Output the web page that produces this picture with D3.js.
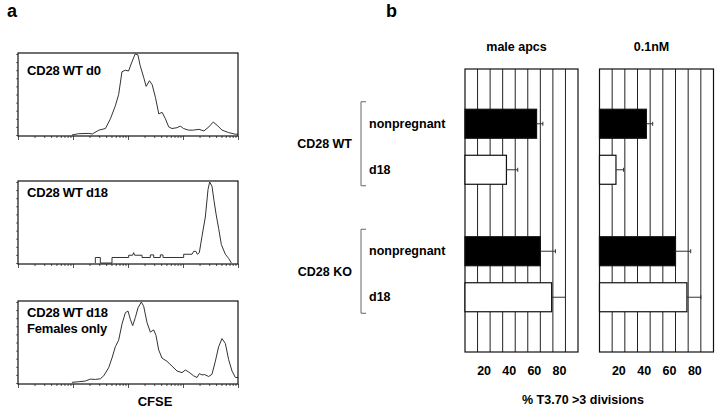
<!DOCTYPE html>
<html>
<head>
<meta charset="utf-8">
<script src="https://cdn.jsdelivr.net/npm/d3@7"></script>
<style>
  body { margin: 0; background: #fff; }
  svg { display: block; font-family: "Liberation Sans", Arial, sans-serif; font-weight: bold; }
</style>
</head>
<body>
<div class="container"></div>
<script>
// ---- panel a : CFSE histograms, x in log10 units (0..4 decades), y as % of peak
const histLabels = [["CD28 WT d0"], ["CD28 WT d18"], ["CD28 WT d18", "Females only"]]

const histD0 = [[0.98,0],[1.04,0.8],[1.10,1.6],[1.29,2],[1.35,1.2],[1.47,6],[1.59,8],[1.68,20],[1.77,36],
  [1.83,50],[1.89,78],[1.95,80],[2.01,79],[2.07,90],[2.13,100],[2.18,99],[2.22,86],[2.29,70],[2.33,60],
  [2.39,67],[2.44,62],[2.50,46],[2.56,26],[2.62,28],[2.68,20],[2.74,10],[2.80,8],[2.89,9],[2.95,11],
  [3.01,8],[3.10,6],[3.19,6],[3.29,7],[3.38,5],[3.47,10],[3.55,16],[3.62,12],[3.71,6],[3.83,3],[3.95,1],[4.0,1]]

const histD18 = [[1.406,0],[1.406,6.8],[1.497,6.8],[1.497,0],[1.709,0],[1.709,6.8],[2.012,6.8],[2.012,9.6],
  [2.085,9.6],[2.103,12.8],[2.121,9.6],[2.255,9.6],[2.255,6.8],[2.406,6.8],[2.406,10],[2.467,10],[2.467,6.8],
  [2.588,6.8],[2.588,10],[2.636,10],[2.636,6.8],[3.012,6.8],[3.012,10.8],[3.164,10.8],[3.194,14.4],[3.236,14.4],
  [3.261,10.8],[3.297,12.8],[3.345,32.8],[3.406,56.8],[3.455,90.8],[3.485,100],[3.527,94.8],[3.564,76.8],
  [3.60,60.8],[3.648,42.8],[3.697,22.8],[3.770,10.8],[3.830,5.6],[3.879,0]]

const histFemales = [[0.98,0.8],[1.103,1.6],[1.224,2.4],[1.315,4.8],[1.406,4.4],[1.497,5.2],[1.558,8.8],
  [1.648,18.8],[1.709,30.8],[1.770,44.8],[1.830,52.8],[1.891,72.8],[1.952,86.8],[2.0,88.8],[2.042,78.8],
  [2.085,70.8],[2.133,80.8],[2.182,92.8],[2.242,100],[2.285,94.8],[2.345,74.8],[2.406,62.8],[2.467,65.6],
  [2.509,58.8],[2.558,40.8],[2.618,30.8],[2.709,26.8],[2.80,20.8],[2.891,14.8],[2.982,12.8],[3.042,16],
  [3.103,13.6],[3.194,8.8],[3.255,6.8],[3.297,11.6],[3.345,10],[3.394,10.4],[3.467,8],[3.527,10.8],
  [3.588,26.8],[3.648,44.8],[3.709,54.8],[3.770,48.8],[3.830,28.8],[3.891,14.8],[3.952,6.8],[4.0,6.8]]

const histSeries = [histD0, histD18, histFemales]

// ---- panel b : % T3.70 > 3 divisions
const groups = ["CD28 WT", "CD28 KO"]
const conditions = ["nonpregnant", "d18"]
const barPanels = ["male apcs", "0.1nM"]
const maleApcsMean = [57, 33, 60, 69]
const maleApcsErr = [5, 9, 12, 11]
const nMMean = [37, 13, 60, 69]
const nMErr = [5, 6, 12, 11]
const barTicks = [20, 40, 60, 80]

const svg = d3.select(".container")
              .append("svg")
              .attr("width", 720)
              .attr("height", 411)

svg.append("text").text("a").attr("x", 7).attr("y", 17).style("font-size", "18px")
svg.append("text").text("b").attr("x", 386).attr("y", 17).style("font-size", "18px")

// ---------- histograms
const histTops = [53, 181, 301]
const histH = 83
const labelDy = [22, 16, 16]

const x = d3.scaleLog().domain([1, 1e4]).range([18, 238])

histSeries.forEach((series, i) => {
    const top = histTops[i]
    const y = d3.scaleLinear().domain([0, 100]).range([top + histH - 1, top + 1])
    const g = svg.append("g")

    g.append("g")
     .attr("transform", "translate(0," + (top + histH) + ")")
     .call(d3.axisBottom(x).ticks(10).tickSize(3).tickFormat(""))
     .call(a => a.select(".domain").remove())
     .call(a => a.selectAll(".tick line").attr("stroke", "#555")
        .attr("y2", d => Math.log10(d) % 1 === 0 ? 4 : 2))

    g.append("g")
     .attr("transform", "translate(18,0)")
     .call(d3.axisLeft(y).ticks(10).tickSize(2).tickFormat(""))
     .call(a => a.select(".domain").remove())
     .call(a => a.selectAll(".tick line").attr("stroke", "#777"))

    g.append("path")
     .datum(series)
     .attr("fill", "none")
     .attr("stroke", "#333")
     .attr("stroke-width", 1)
     .attr("d", d3.line().x(d => x(Math.pow(10, d[0]))).y(d => y(d[1])))

    g.append("rect")
     .attr("x", 18).attr("y", top)
     .attr("width", 220).attr("height", histH)
     .attr("fill", "none").attr("stroke", "#111").attr("stroke-width", 1.2)

    histLabels[i].forEach((t, j) => {
        g.append("text").text(t)
         .attr("x", 27).attr("y", top + labelDy[i] + j * 16)
         .style("font-size", "13px").style("letter-spacing", "-0.2px")
    })
})

svg.append("text").text("CFSE").attr("x", 155).attr("y", 406)
   .attr("text-anchor", "middle").style("font-size", "13px")

// ---------- bar panels
const boxTop = 69, boxBottom = 352
const y0 = d3.scaleBand().domain(groups).range([boxTop, boxBottom]).paddingInner(0).paddingOuter(0.11)
const y1 = d3.scaleBand().domain(conditions).range([0, y0.bandwidth()]).paddingInner(0.37).paddingOuter(0.57)

const rows = []
groups.forEach((gname, gi) => conditions.forEach((c, ci) => rows.push({group: gname, cond: c, k: gi * 2 + ci})))

const panelData = [
    {title: barPanels[0], mean: maleApcsMean, err: maleApcsErr, range: [465, 578]},
    {title: barPanels[1], mean: nMMean, err: nMErr, range: [599.5, 713.5]}
]

panelData.forEach(p => {
    const bx = d3.scaleLinear().domain([0, 90]).range(p.range)
    const g = svg.append("g")

    g.selectAll(".grid")
     .data(d3.range(10, 90, 10))
     .enter().append("line")
     .attr("x1", d => bx(d)).attr("x2", d => bx(d))
     .attr("y1", boxTop).attr("y2", boxBottom)
     .attr("stroke", "#222").attr("stroke-width", 1)

    g.append("rect")
     .attr("x", bx(0)).attr("y", boxTop)
     .attr("width", bx(90) - bx(0)).attr("height", boxBottom - boxTop)
     .attr("fill", "none").attr("stroke", "#111").attr("stroke-width", 1.2)

    const by = r => y0(r.group) + y1(r.cond)

    g.selectAll(".bar")
     .data(rows)
     .enter().append("rect")
     .attr("x", bx(0))
     .attr("y", r => by(r))
     .attr("width", r => bx(p.mean[r.k]) - bx(0))
     .attr("height", y1.bandwidth())
     .attr("fill", r => r.cond === "nonpregnant" ? "#000" : "#fff")
     .attr("stroke", "#111").attr("stroke-width", 1.2)

    const err = g.selectAll(".err").data(rows).enter().append("g")
    err.append("line")
       .attr("x1", r => bx(p.mean[r.k])).attr("x2", r => bx(p.mean[r.k] + p.err[r.k]))
       .attr("y1", r => by(r) + y1.bandwidth() / 2).attr("y2", r => by(r) + y1.bandwidth() / 2)
       .attr("stroke", "#333").attr("stroke-width", 1)
    err.append("line")
       .attr("x1", r => bx(p.mean[r.k] + p.err[r.k])).attr("x2", r => bx(p.mean[r.k] + p.err[r.k]))
       .attr("y1", r => by(r) + y1.bandwidth() / 2 - 2).attr("y2", r => by(r) + y1.bandwidth() / 2 + 2)
       .attr("stroke", "#333").attr("stroke-width", 1)

    g.selectAll(".tick-label")
     .data(barTicks)
     .enter().append("text")
     .text(d => d)
     .attr("x", d => bx(d) - 6).attr("y", 375)
     .attr("text-anchor", "middle").style("font-size", "12.5px")

    g.append("text").text(p.title)
     .attr("x", (p.range[0] + p.range[1]) / 2 - 5).attr("y", 51)
     .attr("text-anchor", "middle").style("font-size", "12.5px")
})

svg.append("text").text("% T3.70 >3 divisions").attr("x", 583).attr("y", 404)
   .attr("text-anchor", "middle").style("font-size", "12.5px")

// group labels, brackets and row labels
groups.forEach(gname => {
    const cy = y0(gname) + y0.bandwidth() / 2 - 3
    svg.append("text").text(gname)
       .attr("x", 352).attr("y", cy).attr("dy", "0.35em")
       .attr("text-anchor", "end").style("font-size", "12.5px")
    svg.append("path")
       .attr("d", "M366," + (cy - 42) + "H361V" + (cy + 42) + "H366")
       .attr("fill", "none").attr("stroke", "#666").attr("stroke-width", 1)
})

rows.forEach(r => {
    svg.append("text").text(r.cond)
       .attr("x", 369).attr("y", y0(r.group) + y1(r.cond) + y1.bandwidth() / 2)
       .attr("dy", "0.3em").style("font-size", "12.5px")
})
</script>
</body>
</html>
